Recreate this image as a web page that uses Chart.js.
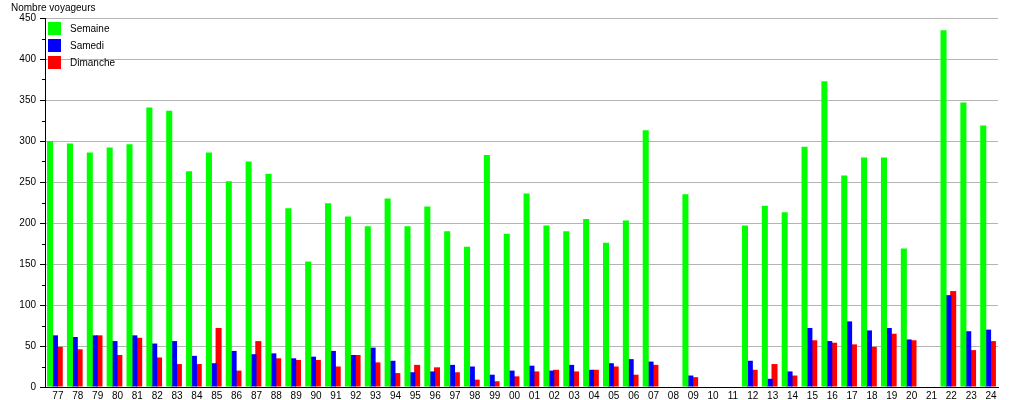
<!DOCTYPE html>
<html>
<head>
<meta charset="utf-8">
<script src="https://cdn.jsdelivr.net/npm/chart.js@4/dist/chart.umd.min.js"></script>
<style>
  html, body { margin: 0; padding: 0; background: #fff; }
  #wrap { width: 1015px; height: 400px; }
</style>
</head>
<body>
<div id="wrap"><canvas id="c" width="1015" height="400"></canvas></div>
<script>
const years = ['77','78','79','80','81','82','83','84','85','86','87','88','89','90','91','92','93','94','95','96','97','98','99','00','01','02','03','04','05','06','07','08','09','10','11','12','13','14','15','16','17','18','19','20','21','22','23','24'];
const semaine = [300,297,286,292,296,341,337,263,286,251,275,260,218,153,224,208,196,230,196,220,190,171,283,187,236,197,190,205,176,203,313,null,235,null,null,197,221,213,293,373,258,280,280,169,null,435,347,319];
const samedi  = [63,61,63,56,63,53,56,38,29,44,40,41,35,37,44,39,48,32,18,19,27,25,15,20,26,20,27,21,29,34,31,null,14,null,null,32,10,19,72,56,80,69,72,58,null,112,68,70];
const dimanche= [49,46,63,39,60,36,28,28,72,20,56,35,33,33,25,39,30,17,27,24,18,9,7,13,19,21,19,21,25,15,27,null,12,null,null,21,28,14,57,54,52,49,65,57,null,117,45,56];
const seriesNames = ['Semaine','Samedi','Dimanche'];
const seriesColors = ['#00ff00','#0000ff','#ff0000'];
const yTitle = 'Nombre voyageurs';

const FONT = '"Liberation Sans", Arial, sans-serif';

const extras = {
  id: 'extras',
  afterDraw(chart) {
    const ctx = chart.ctx;
    const y = chart.scales.y;
    const area = chart.chartArea;
    ctx.save();
    // minor ticks
    ctx.strokeStyle = '#000';
    ctx.lineWidth = 1;
    for (let v = 25; v < 450; v += 50) {
      const py = Math.round(y.getPixelForValue(v)) + 0.5;
      ctx.beginPath();
      ctx.moveTo(area.left - 3, py);
      ctx.lineTo(area.left, py);
      ctx.stroke();
    }
    // title
    ctx.fillStyle = '#000';
    ctx.font = '10px ' + FONT;
    ctx.textAlign = 'left';
    ctx.textBaseline = 'alphabetic';
    ctx.fillText(yTitle, 11, 10.5);
    // legend
    chart.data.datasets.forEach((ds, i) => {
      const by = 22 + i * 17;
      ctx.fillStyle = ds.backgroundColor;
      ctx.fillRect(48, by, 13, 13);
      ctx.fillStyle = '#000';
      ctx.textBaseline = 'middle';
      ctx.fillText(ds.label, 70, by + 7);
    });
    ctx.restore();
  }
};

new Chart(document.getElementById('c'), {
  type: 'bar',
  data: {
    labels: years,
    datasets: [
      { label: seriesNames[0], data: semaine, backgroundColor: seriesColors[0] },
      { label: seriesNames[1], data: samedi, backgroundColor: seriesColors[1] },
      { label: seriesNames[2], data: dimanche, backgroundColor: seriesColors[2] }
    ]
  },
  options: {
    responsive: false,
    animation: false,
    devicePixelRatio: 1,
    layout: { padding: { top: 18, right: 17, left: 0, bottom: 0 } },
    datasets: { bar: { categoryPercentage: 0.73, barPercentage: 1.25, borderWidth: 0 } },
    plugins: { legend: { display: false }, tooltip: { enabled: false }, title: { display: false } },
    scales: {
      x: {
        grid: { display: false, drawTicks: false, tickLength: 0 },
        border: { display: true, color: '#000', width: 1 },
        ticks: { color: '#000', font: { family: FONT, size: 10 }, autoSkip: false, maxRotation: 0, minRotation: 0, padding: 3, labelOffset: 3 },
        afterFit(s) { s.height = 13; }
      },
      y: {
        min: 0, max: 450,
        grid: {
          color: (c) => (c.tick && c.tick.value % 50 === 0 && c.tick.value > 0) ? '#b4b4b4' : 'rgba(0,0,0,0)',
          tickColor: (c) => (c.tick && c.tick.value % 50 === 0) ? '#000' : 'rgba(0,0,0,0)',
          tickLength: 5,
          drawTicks: true
        },
        border: { display: true, color: '#000', width: 1 },
        ticks: {
          stepSize: 25,
          color: '#000',
          font: { family: FONT, size: 10 },
          padding: 4,
          callback: (v) => (v % 50 === 0 ? String(v) : '')
        },
        afterFit(s) { s.width = 45; }
      }
    }
  },
  plugins: [extras]
});
</script>
</body>
</html>
